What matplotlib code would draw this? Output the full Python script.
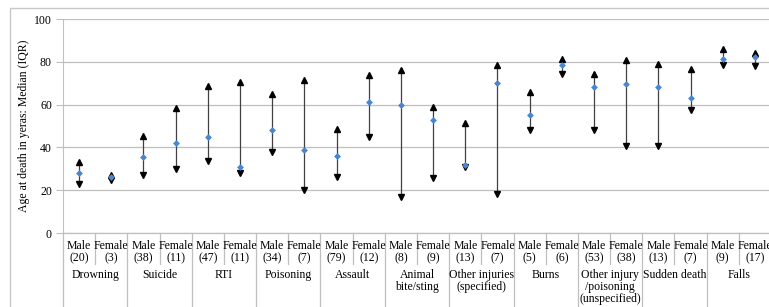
import matplotlib
matplotlib.use("Agg")
import matplotlib.pyplot as plt
import matplotlib.transforms as mtransforms
from matplotlib.patches import Rectangle

groups = ["Drowning", "Suicide", "RTI", "Poisoning", "Assault", "Animal\nbite/sting",
          "Other injuries\n(specified)", "Burns", "Other injury\n/poisoning\n(unspecified)",
          "Sudden death", "Falls"]
sexes = ["Male", "Female"]
counts = [20, 3, 38, 11, 47, 11, 34, 7, 79, 12, 8, 9, 13, 7, 5, 6, 53, 38, 13, 7, 9, 17]
medians = [28, 26, 35.5, 42, 45, 31, 48, 39, 36, 61.4, 60, 53, 32, 70, 55, 78.3, 68.2, 69.6, 68.2, 63, 81.2, 82.3]
upper = [33, 27, 45.5, 58.5, 68.5, 70.5, 65, 71.6, 48.8, 74, 76, 59, 51.5, 78.6, 65.8, 81.4, 74.5, 81, 79.2, 76.8, 85.8, 84.3]
lower = [23, 25, 27, 30, 33.5, 28, 38, 20, 26, 45, 16.7, 25.7, 30.8, 18.4, 48.3, 74.5, 48.3, 40.8, 40.8, 57.4, 78.3, 78]

W, H = 769, 307
fig = plt.figure(figsize=(W / 100, H / 100), dpi=100)
serif = ["Liberation Serif", "DejaVu Serif"]
fs = 8.5

# outer chart border
fig.patches.append(Rectangle((10 / W, -0.1), 1.2, 1.1 - 8 / H, transform=fig.transFigure,
                             fill=False, edgecolor="#c8c8c8", linewidth=1.0))

left_px, right_px, top_px, bot_px = 63, 771, 19, 233
ax = fig.add_axes([left_px / W, 1 - bot_px / H, (right_px - left_px) / W, (bot_px - top_px) / H])
n = len(medians)
ax.set_xlim(-0.5, n - 0.5)
ax.set_ylim(0, 100)
ax.set_yticks(range(0, 101, 20))
ax.yaxis.grid(True, color="#bfbfbf", linewidth=0.9)
ax.set_axisbelow(True)
for s in ["top", "right", "bottom"]:
    ax.spines[s].set_visible(False)
ax.spines["left"].set_color("#bfbfbf")
ax.axhline(0, color="#bfbfbf", linewidth=0.9, clip_on=False)
ax.tick_params(axis="y", length=5, color="#bfbfbf", labelsize=fs, pad=3)
ax.set_xticks([])
for lab in ax.get_yticklabels():
    lab.set_family(serif)
ax.set_ylabel("Age at death in yeras: Median (IQR)", family=serif, fontsize=fs, labelpad=3)

xs = list(range(n))
for x, lo, hi in zip(xs, lower, upper):
    ax.plot([x, x], [lo, hi], color="#404040", linewidth=0.9, zorder=2)
ax.plot(xs, upper, linestyle="none", marker="^", markersize=5, color="black", zorder=3)
ax.plot(xs, lower, linestyle="none", marker="v", markersize=5, color="black", zorder=3)
ax.plot(xs, medians, linestyle="none", marker="D", markersize=3.5, color="#4a86d0",
        markeredgewidth=0, zorder=4)

tr = mtransforms.blended_transform_factory(ax.transData, fig.transFigure)
def fy(px):
    return 1 - px / H

for i in range(n):
    ax.text(i, fy(252), f"{sexes[i % 2]}\n({counts[i]})", transform=tr, ha="center", va="center",
            family=serif, fontsize=fs, linespacing=1.05)
for g, name in enumerate(groups):
    ax.text(2 * g + 0.5, fy(269), name, transform=tr, ha="center", va="top",
            family=serif, fontsize=fs, linespacing=1.0)
# separators
for b in range(n + 1):
    xb = b - 0.5
    if b % 2 == 0:
        ax.plot([xb, xb], [fy(bot_px), 0], transform=tr, color="#bfbfbf", linewidth=0.9, clip_on=False)
    else:
        ax.plot([xb, xb], [fy(bot_px), fy(264)], transform=tr, color="#bfbfbf", linewidth=0.9, clip_on=False)

fig.savefig("out.png", dpi=100)
